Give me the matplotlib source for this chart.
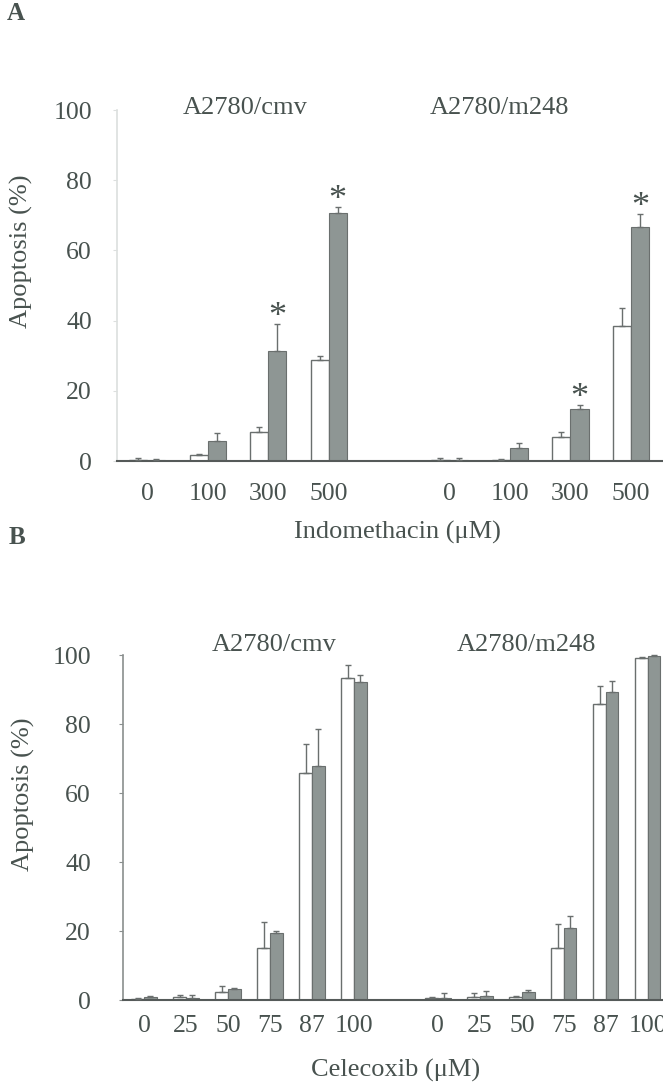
import matplotlib.pyplot as plt
import numpy as np

# Panel A: indomethacin (uM), apoptosis %, white = control bar, gray = second bar
indo_doses = ["0", "100", "300", "500"]
indo_cmv_white = [0.3, 1.7, 8.3, 28.8]
indo_cmv_white_err = [0.6, 0.3, 1.3, 1.2]
indo_cmv_gray = [0.2, 5.6, 31.3, 70.7]
indo_cmv_gray_err = [0.5, 2.5, 7.6, 1.7]
indo_m248_white = [0.4, 0.3, 6.9, 38.4]
indo_m248_white_err = [0.4, 0.2, 1.5, 5.3]
indo_m248_gray = [0.3, 3.7, 14.8, 66.7]
indo_m248_gray_err = [0.6, 1.4, 1.2, 3.7]
indo_stars_cmv = [False, False, True, True]
indo_stars_m248 = [False, False, True, True]

# Panel B: celecoxib (uM)
cele_doses = ["0", "25", "50", "75", "87", "100"]
cele_cmv_white = [0.3, 0.8, 2.4, 15.2, 65.7, 93.2]
cele_cmv_white_err = [0.2, 0.8, 1.7, 7.5, 8.4, 3.9]
cele_cmv_gray = [0.9, 0.5, 3.2, 19.3, 67.9, 92.3]
cele_cmv_gray_err = [0.3, 1.1, 0.4, 0.7, 10.8, 1.9]
cele_m248_white = [0.5, 1.0, 1.0, 15.0, 85.8, 99.2]
cele_m248_white_err = [0.3, 0.9, 0.2, 6.9, 5.2, 0.2]
cele_m248_gray = [0.7, 1.3, 2.2, 21.0, 89.2, 99.8]
cele_m248_gray_err = [1.2, 1.4, 0.7, 3.4, 3.3, 0.3]

TEXT = "#48524f"
GRAY = "#8e9694"
EDGE = "#6a6f6e"
FONT = "Liberation Serif"

plt.rcParams["font.family"] = [FONT, "DejaVu Serif"]


def draw_panel(ax, doses, groups, gap, width, star_flags, spine_color):
    n = len(doses)
    positions = []
    labels = []
    for gi, (w, we, g, ge) in enumerate(groups):
        x = np.arange(n) + gi * (n + gap)
        ax.bar(x - width / 2, w, width, color="white", edgecolor=EDGE, linewidth=1.0, zorder=2)
        ax.bar(x + width / 2, g, width, color=GRAY, edgecolor=EDGE, linewidth=0.8, zorder=2)
        ax.errorbar(x - width / 2, w, yerr=[np.zeros(n), we], fmt="none",
                    ecolor=EDGE, elinewidth=1.0, capsize=2, capthick=1.0, zorder=3, clip_on=False)
        ax.errorbar(x + width / 2, g, yerr=[np.zeros(n), ge], fmt="none",
                    ecolor=EDGE, elinewidth=1.0, capsize=2, capthick=1.0, zorder=3, clip_on=False)
        if star_flags is not None:
            for xi, gv, gev, s in zip(x, g, ge, star_flags[gi]):
                if s:
                    ax.annotate("*", (xi + width / 2, gv + gev), xytext=(0, -7),
                                textcoords="offset points", ha="center", va="bottom",
                                fontsize=26, color=TEXT, annotation_clip=False)
        positions.extend(x)
        labels.extend(doses)
    ax.set_xticks(positions)
    ax.set_xticklabels(labels)
    ax.set_ylim(0, 100)
    ax.set_yticks([0, 20, 40, 60, 80, 100])
    ax.spines["top"].set_visible(False)
    ax.spines["right"].set_visible(False)
    ax.spines["bottom"].set_color("#555a59")
    ax.spines["bottom"].set_linewidth(1.5)
    ax.spines["left"].set_color(spine_color)
    ax.spines["left"].set_linewidth(1.2)
    ax.tick_params(axis="x", length=0, labelsize=18.5, labelcolor=TEXT)
    ax.tick_params(axis="y", length=3, color=spine_color, labelsize=18.5, labelcolor=TEXT)


fig = plt.figure(figsize=(6.63, 10.85), dpi=100)

# Panel A
axA = fig.add_axes([0.1765, 0.5751, 0.8235, 0.3235])
draw_panel(axA, indo_doses,
           [(indo_cmv_white, indo_cmv_white_err, indo_cmv_gray, indo_cmv_gray_err),
            (indo_m248_white, indo_m248_white_err, indo_m248_gray, indo_m248_gray_err)],
           1, 0.3, [indo_stars_cmv, indo_stars_m248], "#dcdfde")
axA.set_xlim(-0.5, 8.53)
axA.tick_params(axis="x", pad=16)
axA.tick_params(axis="y", pad=15)
axA.text(1.62, 100.5, "A2780/cmv", ha="center", va="center", fontsize=19, color=TEXT)
axA.text(5.82, 100.5, "A2780/m248", ha="center", va="center", fontsize=19, color=TEXT)

# Panel B
axB = fig.add_axes([0.1855, 0.0783, 0.8145, 0.318])
draw_panel(axB, cele_doses,
           [(cele_cmv_white, cele_cmv_white_err, cele_cmv_gray, cele_cmv_gray_err),
            (cele_m248_white, cele_m248_white_err, cele_m248_gray, cele_m248_gray_err)],
           1, 0.3, None, "#8a8f8e")
axB.set_xlim(-0.5, 12.36)
axB.tick_params(axis="x", pad=11)
axB.tick_params(axis="y", pad=20)
axB.text(3.1, 103, "A2780/cmv", ha="center", va="center", fontsize=19, color=TEXT, clip_on=False)
axB.text(9.1, 103, "A2780/m248", ha="center", va="center", fontsize=19, color=TEXT, clip_on=False)

# labels
fig.text(0.033, 0.7687, "Apoptosis (%)", rotation=90, ha="center", va="center",
         fontsize=19, color=TEXT)
fig.text(0.036, 0.268, "Apoptosis (%)", rotation=90, ha="center", va="center",
         fontsize=19, color=TEXT)
fig.text(0.599, 0.5097, "Indomethacin (\u03bcM)", ha="center", va="center", fontsize=19, color=TEXT)
fig.text(0.596, 0.0138, "Celecoxib (\u03bcM)", ha="center", va="center", fontsize=19, color=TEXT)
fig.text(0.024, 0.988, "A", ha="center", va="center", fontsize=18, fontweight="bold", color=TEXT)
fig.text(0.026, 0.505, "B", ha="center", va="center", fontsize=18, fontweight="bold", color=TEXT)

fig.savefig("out.png", dpi=100)
